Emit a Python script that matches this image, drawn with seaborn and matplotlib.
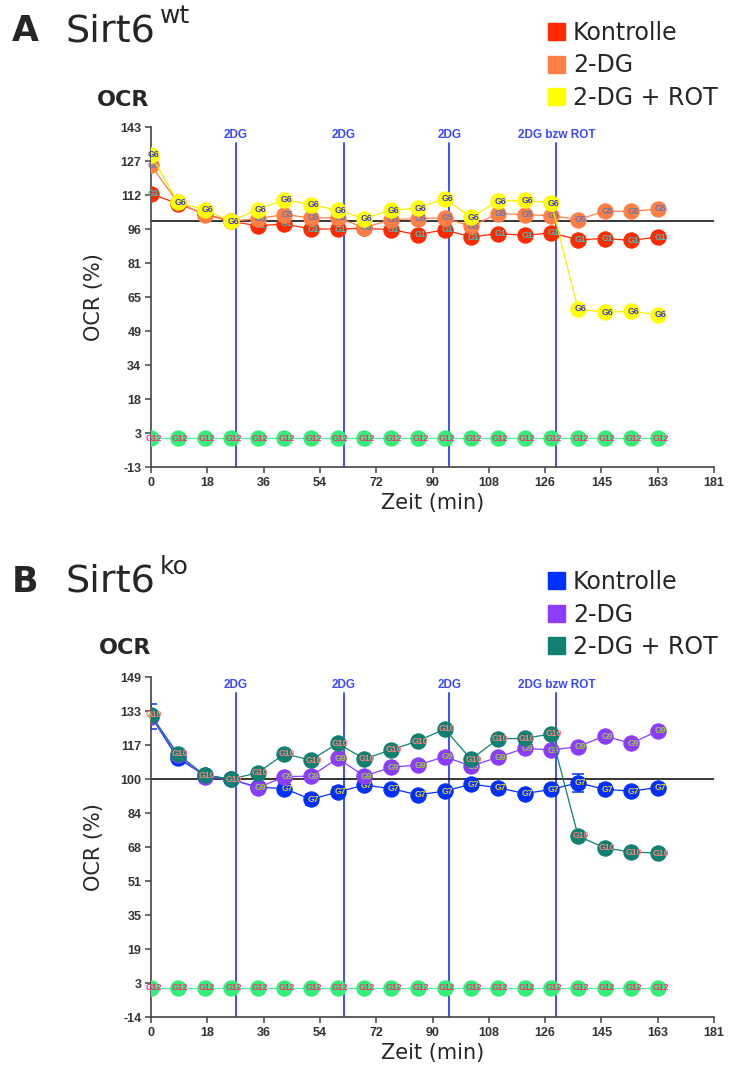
import numpy as np
import pandas as pd
import seaborn as sns
import matplotlib
matplotlib.use("Agg")
import matplotlib.pyplot as plt
from matplotlib.patches import Patch
from matplotlib.transforms import blended_transform_factory

# ---------------- data ----------------
zeit = [0, 8.6, 17.2, 25.7, 34.3, 42.9, 51.5, 60.0, 68.6, 77.2,
        85.8, 94.4, 102.9, 111.5, 120.1, 128.7, 137.3, 145.8, 154.4, 163.0]
injektion_zeit = [27.2, 61.9, 95.9, 130.3]
injektion_label = ["2DG", "2DG", "2DG", "2DG bzw ROT"]

x_ticks = [0, 18.1, 36.2, 54.3, 72.4, 90.5, 108.6, 126.7, 144.8, 162.9, 181]
x_ticklabels = ["0", "18", "36", "54", "72", "90", "108", "126", "145", "163", "181"]

# Panel A (Sirt6 wt)
wt_kontrolle = [112.4, 107.8, 103.2, 99.7, 97.7, 98.5, 96.2, 96.2, 96.5, 95.9,
                93.6, 95.9, 92.5, 94.1, 93.3, 94.4, 91.3, 91.8, 91.0, 92.5]
wt_2dg = [125.4, 108.4, 102.8, 99.7, 101.0, 102.8, 101.3, 101.3, 96.8, 100.5,
          101.0, 101.3, 97.4, 103.2, 102.8, 102.3, 100.5, 104.3, 104.3, 105.4]
wt_2dg_rot = [130.3, 108.4, 105.1, 99.7, 105.1, 109.7, 107.4, 104.8, 101.0, 104.8,
              105.8, 110.1, 101.6, 108.9, 109.4, 108.1, 59.5, 58.0, 58.4, 56.9]
wt_g12 = [0.2, 0.2, 0.2, 0.2, 0.2, 0.2, 0.2, 0.2, 0.2, 0.2,
          0.2, 0.2, 0.2, 0.2, 0.2, 0.2, 0.2, 0.2, 0.2, 0.2]
wt_yticks = [-13, 2.6, 18.2, 33.8, 49.4, 65, 80.6, 96.2, 111.8, 127.4, 143]
wt_yticklabels = ["-13", "3", "18", "34", "49", "65", "81", "96", "112", "127", "143"]

# Panel B (Sirt6 ko)
ko_kontrolle = [130.1, 110.0, 102.0, 100.0, 96.2, 95.5, 90.3, 93.9, 97.2, 95.5,
                92.5, 94.3, 97.6, 96.0, 93.1, 95.1, 98.3, 95.2, 94.3, 96.0]
ko_kontrolle_err = [5.9, 1.5, 1.0, 0.5, 1.0, 2.5, 2.5, 2.5, 1.0, 1.0,
                    1.0, 1.0, 2.5, 1.0, 1.0, 1.0, 4.2, 2.5, 1.0, 1.0]
ko_2dg = [130.0, 111.6, 101.2, 100.0, 95.9, 101.2, 101.5, 110.0, 101.5, 105.7,
          106.8, 110.8, 106.3, 110.5, 114.8, 114.0, 115.6, 120.7, 117.2, 123.2]
ko_2dg_rot = [130.9, 112.1, 102.0, 100.0, 103.1, 112.1, 109.2, 117.2, 109.7, 114.1,
              118.3, 124.1, 109.5, 119.3, 119.6, 121.7, 72.8, 67.1, 65.1, 64.6]
ko_g12 = [0.1, 0.1, 0.1, 0.1, 0.1, 0.1, 0.1, 0.1, 0.1, 0.1,
          0.1, 0.1, 0.1, 0.1, 0.1, 0.1, 0.1, 0.1, 0.1, 0.1]
ko_yticks = [-14, 2.3, 18.6, 34.9, 51.2, 67.5, 83.8, 100.1, 116.4, 132.7, 149]
ko_yticklabels = ["-14", "3", "19", "35", "51", "68", "84", "100", "117", "133", "149"]

gruppen = ["Kontrolle", "2-DG", "2-DG + ROT"]

# ---------------- style ----------------
sns.set_theme(style="white")
plt.rcParams["font.family"] = ["DejaVu Sans"]

fig = plt.figure(figsize=(7.31, 10.68), dpi=100)
W, H = 731.0, 1068.0

tick_font = dict(family="Liberation Sans", weight="bold", size=9)


def draw_panel(ax, series, ylim, yticks, yticklabels, err=None):
    # series: list of (values, line colour, marker colour, label text, text colour)
    for vline_x, lab in zip(injektion_zeit, injektion_label):
        ax.axvline(vline_x, ymin=0, ymax=0.952, color="#3040ff", lw=1.3, zorder=1)
        tr = blended_transform_factory(ax.transData, ax.transAxes)
        ax.text(vline_x, 0.975, lab, transform=tr, ha="center", va="center",
                color="#3a48ff", fontsize=8.5, family="Liberation Sans", weight="bold")
    ax.axhline(100, color="black", lw=1.1, zorder=1.5)

    for k, (vals, lc, mc, lab, tc) in enumerate(series):
        df = pd.DataFrame({"Zeit": zeit, "OCR": vals})
        if err is not None and k == 0:
            ax.errorbar(zeit, vals, yerr=err, fmt="none", ecolor=lc, elinewidth=1.1,
                        capsize=4, capthick=1.1, zorder=2 + k)
        sns.lineplot(data=df, x="Zeit", y="OCR", ax=ax, color=lc, lw=0.9,
                     marker="o", markersize=11, markerfacecolor=mc,
                     markeredgecolor=mc, markeredgewidth=0.8,
                     zorder=3 + k, legend=False)
        for xv, yv in zip(zeit, vals):
            ax.text(xv + 0.8, yv, lab, ha="center", va="center", fontsize=6.2,
                    family="Liberation Sans", weight="bold", color=tc, zorder=3.5 + k)

    ax.set_xlim(0, 181)
    ax.set_ylim(*ylim)
    ax.set_xticks(x_ticks)
    ax.set_xticklabels(x_ticklabels, fontdict=tick_font, color="#333333")
    ax.set_yticks(yticks)
    ax.set_yticklabels(yticklabels, fontdict=tick_font, color="#333333")
    ax.tick_params(axis="both", direction="out", length=4, width=1.1,
                   color="#444444", pad=3, bottom=True, left=True)
    for s in ["top", "right"]:
        ax.spines[s].set_visible(False)
    for s in ["left", "bottom"]:
        ax.spines[s].set_color("#444444")
        ax.spines[s].set_linewidth(1.2)
    ax.set_xlabel("Zeit (min)", fontsize=15)
    ax.set_ylabel("OCR (%)", fontsize=15)
    ax.xaxis.set_label_coords(0.5, -0.075)
    ax.yaxis.set_label_coords(-0.083, 0.5)


left = 151 / W
width = (714 - 151) / W
height = 340 / H

axA = fig.add_axes([left, 1 - 467 / H, width, height])
draw_panel(axA,
           [(wt_kontrolle, "#ff2a00", "#ff2a00", "G1", "#3fbfbf"),
            (wt_2dg, "#ff7f45", "#ff7f45", "G5", "#5a78b4"),
            (wt_2dg_rot, "#f5f000", "#ffff00", "G6", "#3a3ad0"),
            (wt_g12, "#55ee99", "#33ee77", "G12", "#ff2a7f")],
           (-13, 143), wt_yticks, wt_yticklabels)

axB = fig.add_axes([left, 1 - 1017 / H, width, height])
draw_panel(axB,
           [(ko_kontrolle, "#0030ff", "#0030ff", "G7", "#e8d030"),
            (ko_2dg, "#8a3cff", "#8a3cff", "G9", "#9acd32"),
            (ko_2dg_rot, "#108070", "#108070", "G10", "#ff8080"),
            (ko_g12, "#55ee99", "#33ee77", "G12", "#ff2a7f")],
           (-14, 149), ko_yticks, ko_yticklabels, err=ko_kontrolle_err)

# ---------------- headings ----------------
def heading(letter, y_base, sup):
    fig.text(12 / W, 1 - y_base / H, letter, fontsize=25, weight="bold",
             va="baseline", ha="left")
    fig.text(66 / W, 1 - y_base / H, "Sirt6", fontsize=27.5, va="baseline", ha="left")
    fig.text(160 / W, 1 - (y_base - 18) / H, sup, fontsize=18, va="baseline", ha="left")


heading("A", 41, "wt")
heading("B", 592, "ko")
fig.text(123 / W, 1 - 100 / H, "OCR", fontsize=16, weight="bold", ha="center", va="center")
fig.text(125 / W, 1 - 648 / H, "OCR", fontsize=16, weight="bold", ha="center", va="center")

# ---------------- legends ----------------
def legend(colors, y_top):
    handles = [Patch(facecolor=c, edgecolor=c) for c in colors]
    fig.legend(handles, gruppen, loc="upper left",
               bbox_to_anchor=(548 / W, 1 - y_top / H), frameon=False,
               fontsize=17, handlelength=0.7, handleheight=0.7,
               handletextpad=0.35, labelspacing=0.36, borderaxespad=0,
               borderpad=0)


legend(["#ff2a00", "#ff7f45", "#ffff00"], 21)
legend(["#0030ff", "#8a3cff", "#108070"], 570)

fig.savefig("out.png", dpi=100)
